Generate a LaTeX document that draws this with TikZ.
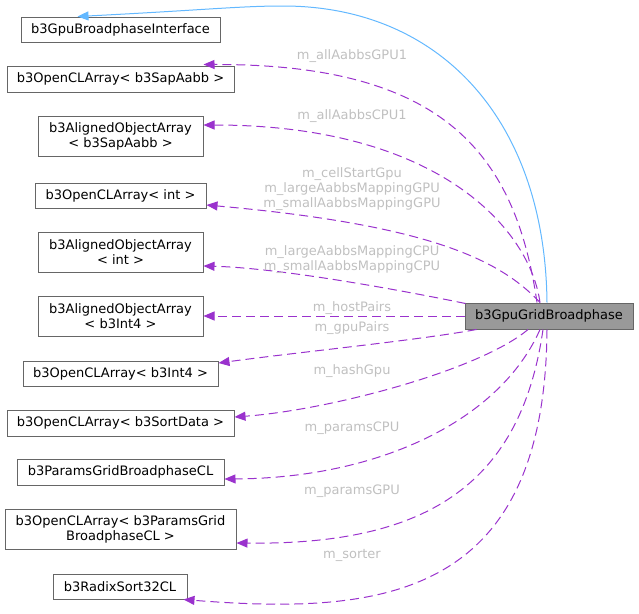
\documentclass[tikz,border=0pt]{standalone}
\usepackage{fontspec}
\setmainfont{DejaVu Sans}
\usetikzlibrary{arrows.meta}
\definecolor{boxborder}{HTML}{666666}
\definecolor{mainfill}{HTML}{999999}
\definecolor{orchid}{HTML}{9A32CD}
\definecolor{steel}{HTML}{63B8FF}
\definecolor{lblgray}{HTML}{C0C0C0}
\begin{document}
\begin{tikzpicture}[x=1pt,y=-1pt,font=\fontsize{13}{15}\selectfont,
  box/.style={draw=boxborder,line width=1pt,fill=white,inner sep=0pt,align=center},
  mainbox/.style={box,fill=mainfill},
  lbl/.style={text=lblgray,inner sep=0pt,align=center},
  member/.style={draw=orchid,line width=1pt,dash pattern=on 9pt off 5pt,
    -{Triangle[length=11pt,width=9pt]}},
  inherit/.style={draw=steel,line width=1pt,-{Triangle[length=11pt,width=9pt]}}]
\useasboundingbox (0,0) rectangle (639,613);

% nodes
\node[box,minimum width=199pt,minimum height=25pt] (iface) at (120.5,29.5) {b3GpuBroadphaseInterface};
\node[box,minimum width=227pt,minimum height=26pt] (sapcl) at (120.5,79) {b3OpenCLArray< b3SapAabb >};
\node[box,minimum width=165pt,minimum height=40pt] (sapal) at (120.5,136) {b3AlignedObjectArray\\< b3SapAabb >};
\node[box,minimum width=171pt,minimum height=25pt] (intcl) at (120.5,195.5) {b3OpenCLArray< int >};
\node[box,minimum width=165pt,minimum height=40pt] (intal) at (120.5,252) {b3AlignedObjectArray\\< int >};
\node[box,minimum width=165pt,minimum height=40pt] (int4al) at (120.5,316) {b3AlignedObjectArray\\< b3Int4 >};
\node[box,minimum width=195pt,minimum height=25pt] (int4cl) at (120.5,373.5) {b3OpenCLArray< b3Int4 >};
\node[box,minimum width=227pt,minimum height=26pt] (sortcl) at (120.5,423) {b3OpenCLArray< b3SortData >};
\node[box,minimum width=207pt,minimum height=26pt] (params) at (120.5,472) {b3ParamsGridBroadphaseCL};
\node[box,minimum width=231pt,minimum height=40pt] (paramscl) at (120.5,529) {b3OpenCLArray< b3ParamsGrid\\BroadphaseCL >};
\node[box,minimum width=134pt,minimum height=25pt] (radix) at (120,586.5) {b3RadixSort32CL};
\node[mainbox,minimum width=168pt,minimum height=26pt] (main) at (549,316) {b3GpuGridBroadphase};

% inheritance
\draw[inherit] ([xshift=-2pt]main.north) .. controls (545,120) and (440,6) .. (283,6)
  .. controls (240,6) and (205,10) .. ([xshift=57pt]iface.north west);

% members
\draw[member] ([xshift=-12pt]main.north) .. controls (515,150) and (440,64) .. ([xshift=-31pt,yshift=1pt]sapcl.north east);
\draw[member] ([xshift=-9pt]main.north) .. controls (530,230) and (440,125) .. ([yshift=11pt]sapal.east);
\draw[member] ([xshift=-9pt]main.north) .. controls (500,260) and (430,225) .. ([yshift=-9.5pt]intcl.east);
\draw[member] ([xshift=1pt,yshift=-1pt]main.north west) .. controls (400,290) and (280,268) .. ([yshift=-14pt]intal.east);
\draw[member] (main.west) -- (int4al.east);
\draw[member] ([xshift=12pt]main.south west) .. controls (420,340) and (300,352) .. ([yshift=10.5pt]int4cl.east);
\draw[member] ([xshift=-21pt]main.south) .. controls (480,370) and (330,410) .. ([yshift=6pt]sortcl.east);
\draw[member] ([xshift=-9pt]main.south) .. controls (500,420) and (380,478) .. ([yshift=-7pt]params.east);
\draw[member] ([xshift=-6pt]main.south) .. controls (520,490) and (420,545) .. ([yshift=-14pt]paramscl.east);
\draw[member] ([xshift=-2pt]main.south) .. controls (545,600) and (380,615) .. ([xshift=-4pt]radix.south east);

% labels
\node[lbl] (l1) at (352,56) {m\_allAabbsGPU1};
\node[lbl] (l2) at (352,116) {m\_allAabbsCPU1};
\node[lbl] (l3) at (352,189) {m\_cellStartGpu\\m\_largeAabbsMappingGPU\\m\_smallAabbsMappingGPU};
\node[lbl] (l4) at (352,259.5) {m\_largeAabbsMappingCPU\\m\_smallAabbsMappingCPU};
\node[lbl] (l5) at (352,308) {m\_hostPairs};
\node[lbl] (l6) at (352,328) {m\_gpuPairs};
\node[lbl] (l7) at (352,371) {m\_hashGpu};
\node[lbl] (l8) at (352,428) {m\_paramsCPU};
\node[lbl] (l9) at (352,491) {m\_paramsGPU};
\node[lbl] (l10) at (352,555) {m\_sorter};
\end{tikzpicture}
\end{document}
